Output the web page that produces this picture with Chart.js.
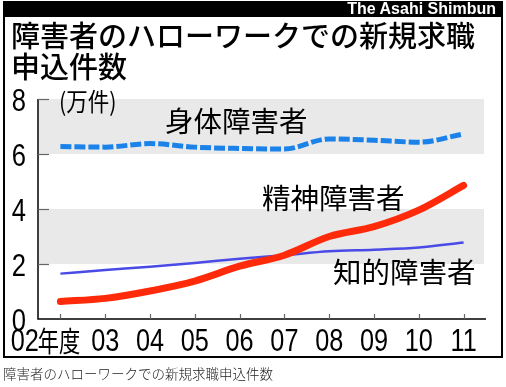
<!DOCTYPE html>
<html><head><meta charset="utf-8">
<script src="https://cdn.jsdelivr.net/npm/chart.js@4"></script>
<style>
html,body{margin:0;padding:0;background:#fff;width:506px;height:387px;overflow:hidden}
#frame{position:absolute;left:3px;top:1px;width:500px;height:357px;border:2px solid #000;box-sizing:border-box}
#header{position:absolute;left:3px;top:1px;width:500px;height:16px;background:#000;color:#fff;font:bold 16px "Liberation Sans",Arial,sans-serif;line-height:16px;text-align:right;box-sizing:border-box;padding-right:7px}
#title{position:absolute;left:11px;top:19px;font-family:"Noto Sans CJK JP",sans-serif;font-weight:500;font-size:29px;line-height:31px;color:#000;white-space:nowrap}
#caption{position:absolute;left:3px;top:366px;font-family:"Noto Sans CJK JP",sans-serif;font-weight:300;font-size:13.5px;line-height:15px;color:#222;white-space:nowrap}
canvas{position:absolute;left:0;top:0}
</style></head>
<body>
<div id="frame"></div>
<canvas id="c" width="506" height="387"></canvas>
<div id="header">The Asahi Shimbun</div>
<div id="title">障害者のハローワークでの新規求職<br>申込件数</div>
<div id="caption">障害者のハローワークでの新規求職申込件数</div>
<script>
const years = ['02年度','03','04','05','06','07','08','09','10','11'];
const physical = [6.27,6.25,6.38,6.25,6.2,6.18,6.55,6.5,6.43,6.73];
const mental = [0.64,0.75,1.02,1.38,1.92,2.32,3.0,3.36,3.96,4.86];
const intellectual = [1.65,1.78,1.9,2.04,2.19,2.32,2.46,2.52,2.6,2.78];
const yTicks = [0,2,4,6,8];
const bands = [[2,4],[6,8]];
const seriesNames = ['身体障害者','精神障害者','知的障害者'];
const unitLabel = '(万件)';

const LAT = '"Liberation Sans",Arial,sans-serif';
const CJK = '"Noto Sans CJK JP",sans-serif';

function condText(ctx, text, x, y, sx, align){
  const w = ctx.measureText(text).width * sx;
  let left = x;
  if(align==='right') left = x - w;
  else if(align==='center') left = x - w/2;
  ctx.save(); ctx.translate(left, y); ctx.scale(sx,1);
  ctx.textAlign = 'left'; ctx.fillText(text, 0, 0);
  ctx.restore();
  return w;
}

const deco = {
  id:'deco',
  beforeDatasetsDraw(chart){
    const {ctx, chartArea:a, scales:{y}} = chart;
    ctx.save();
    ctx.fillStyle = '#e9e9e9';
    bands.forEach(([lo,hi])=>{
      const t = y.getPixelForValue(hi), b = y.getPixelForValue(lo);
      ctx.fillRect(a.left+1, t, a.right-2-a.left-1, b-t);
    });
    ctx.restore();
  },
  afterDatasetsDraw(chart){
    const {ctx, chartArea:a, scales:{x,y}} = chart;
    ctx.save();
    ctx.strokeStyle = '#000'; ctx.lineWidth = 1.5;
    ctx.beginPath();
    ctx.moveTo(a.left, a.top); ctx.lineTo(a.left, a.bottom); ctx.lineTo(a.right, a.bottom);
    ctx.stroke();
    ctx.strokeStyle = '#666'; ctx.lineWidth = 1.2;
    yTicks.forEach(v=>{
      if(v===0) return;
      const py = Math.round(y.getPixelForValue(v))+0.5;
      ctx.beginPath(); ctx.moveTo(a.left, py); ctx.lineTo(a.left+11, py); ctx.stroke();
    });
    years.forEach((lab,i)=>{
      const px = Math.round(x.getPixelForValue(i))+0.5;
      ctx.beginPath(); ctx.moveTo(px, a.bottom); ctx.lineTo(px, a.bottom-5); ctx.stroke();
    });
    ctx.fillStyle = '#000'; ctx.textBaseline = 'alphabetic';
    ctx.font = '32px ' + LAT;
    yTicks.forEach(v=>{
      const py = y.getPixelForValue(v);
      condText(ctx, String(v), a.left - 12, py + 11.5, 0.8, 'right');
    });
    const base = a.bottom + 32;
    years.forEach((lab,i)=>{
      const px = x.getPixelForValue(i);
      const m = lab.match(/^(\d+)(.*)$/);
      const num = m[1], suf = m[2];
      if(suf){
        ctx.font = '28px ' + CJK;
        const right = px + 20;
        const ws = condText(ctx, suf, right, base + 1, 0.76, 'right');
        ctx.font = '32px ' + LAT;
        condText(ctx, num, right - ws + 1, base, 0.79, 'right');
      } else {
        ctx.font = '32px ' + LAT;
        condText(ctx, num, px, base, 0.79, 'center');
      }
    });
    ctx.font = '25px ' + CJK; ctx.textBaseline = 'middle';
    condText(ctx, unitLabel, a.left + 21, a.top + 2, 0.86, 'left');
    ctx.font = '28.5px ' + CJK; ctx.textAlign = 'left';
    ctx.fillText(seriesNames[0], 165, 121);
    ctx.fillText(seriesNames[1], 262, 198);
    ctx.fillText(seriesNames[2], 333, 272);
    ctx.restore();
  }
};

new Chart(document.getElementById('c'), {
  type:'line',
  data:{
    labels: years,
    datasets:[
      {label:seriesNames[1], data:mental, borderColor:'#ff2a0a', borderWidth:7, borderCapStyle:'round', borderJoinStyle:'round', pointRadius:0, tension:0.4, cubicInterpolationMode:'monotone'},
      {label:seriesNames[0], data:physical, borderColor:'#1a82e8', borderWidth:5, borderDash:[11,3], pointRadius:0, tension:0.4, cubicInterpolationMode:'monotone'},
      {label:seriesNames[2], data:intellectual, borderColor:'#4a4ae6', borderWidth:2.5, pointRadius:0, tension:0.4, cubicInterpolationMode:'monotone'}
    ]
  },
  options:{
    responsive:false, animation:false,
    layout:{padding:{left:0,right:20,top:99,bottom:0}},
    plugins:{legend:{display:false}, tooltip:{enabled:false}},
    scales:{
      x:{type:'category', offset:true, grid:{display:false}, border:{display:false}, ticks:{display:false},
         afterFit(s){ s.height = 68; }},
      y:{min:0, max:8, afterBuildTicks(s){ s.ticks = yTicks.map(v=>({value:v})); },
         grid:{display:false}, border:{display:false}, ticks:{display:false},
         afterFit(s){ s.width = 38; }}
    }
  },
  plugins:[deco]
});
</script>
</body></html>
